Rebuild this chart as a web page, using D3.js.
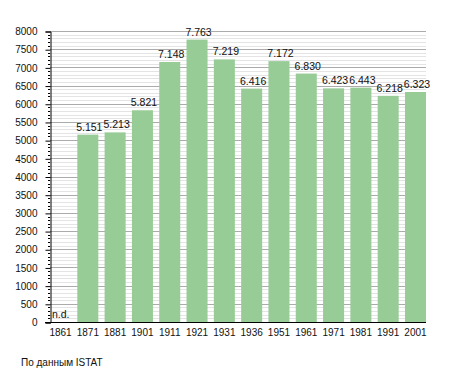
<!DOCTYPE html>
<html>
<head>
<meta charset="utf-8">
<script src="https://cdn.jsdelivr.net/npm/d3@7"></script>
<style>
body { margin: 0; background: #fff; }
text { font-family: "Liberation Sans", Arial, sans-serif; fill: #111; }
</style>
</head>
<body>
<script>
// dati popolazione
var years = ["1861","1871","1881","1901","1911","1921","1931","1936","1951","1961","1971","1981","1991","2001"];
var popolazione = [null,5151,5213,5821,7148,7763,7219,6416,7172,6830,6423,6443,6218,6323];
var etichette = ["n.d.","5.151","5.213","5.821","7.148","7.763","7.219","6.416","7.172","6.830","6.423","6.443","6.218","6.323"];
var yTicks = [0,500,1000,1500,2000,2500,3000,3500,4000,4500,5000,5500,6000,6500,7000,7500,8000];
var fonte = "По данным  ISTAT";

var width = 455, height = 373;
var pLeft = 50, pRight = 426, pTop = 31, pBottom = 322;

var svg = d3.select("body").append("svg")
    .attr("width", width)
    .attr("height", height);

var x = d3.scaleBand()
    .domain(years)
    .range([pLeft, pRight])
    .paddingInner(0.23)
    .paddingOuter(0);

var y = d3.scaleLinear()
    .domain([0, 8000])
    .range([pBottom, pTop]);

// griglia minore ogni 100
var minori = d3.range(0, 8001, 100).filter(function(d){ return d % 500 != 0; });
svg.append("g").selectAll("line")
    .data(minori)
    .enter().append("line")
    .attr("x1", pLeft).attr("x2", pRight)
    .attr("y1", function(d){ return Math.round(y(d)) + 0.5; })
    .attr("y2", function(d){ return Math.round(y(d)) + 0.5; })
    .attr("stroke", "#e4e4e4").attr("stroke-width", 1);

// griglia maggiore ogni 500
svg.append("g").selectAll("line")
    .data(yTicks.filter(function(d){ return d > 0; }))
    .enter().append("line")
    .attr("x1", pLeft).attr("x2", pRight)
    .attr("y1", function(d){ return Math.round(y(d)) + 0.5; })
    .attr("y2", function(d){ return Math.round(y(d)) + 0.5; })
    .attr("stroke", "#ababab").attr("stroke-width", 1);

// barre
var dati = years.map(function(d,i){ return {anno: d, valore: popolazione[i], label: etichette[i]}; });
svg.append("g").selectAll("rect")
    .data(dati.filter(function(d){ return d.valore != null; }))
    .enter().append("rect")
    .attr("x", function(d){ return x(d.anno); })
    .attr("y", function(d){ return y(d.valore); })
    .attr("width", x.bandwidth())
    .attr("height", function(d){ return y(0) - y(d.valore); })
    .attr("fill", "#97cc97");

// etichette valori
svg.append("g").selectAll("text")
    .data(dati)
    .enter().append("text")
    .attr("x", function(d){
        if (d.valore == null) return x(d.anno) + 2;
        return x(d.anno) + x.bandwidth()/2 + 1.5;
    })
    .attr("y", function(d){
        if (d.valore == null) return y(0) - 4;
        return y(d.valore) - 4;
    })
    .attr("text-anchor", function(d){ return d.valore == null ? "start" : "middle"; })
    .attr("font-size", "10.5px")
    .text(function(d){ return d.label; });

// asse y
var yAxis = d3.axisLeft(y)
    .tickValues(yTicks)
    .tickSize(5)
    .tickPadding(8)
    .tickFormat(d3.format("d"));
var gy = svg.append("g")
    .attr("transform", "translate(" + (pLeft + 0.5) + ",0.5)")
    .call(yAxis);
gy.select(".domain").attr("stroke", "#000");
gy.selectAll(".tick line").attr("stroke", "#000");
gy.selectAll("text").attr("font-size", "10px").attr("font-family", "Liberation Sans, Arial, sans-serif").attr("fill", "#111");

// tacche minori
svg.append("g").selectAll("line")
    .data(minori)
    .enter().append("line")
    .attr("x1", pLeft - 2).attr("x2", pLeft)
    .attr("y1", function(d){ return Math.round(y(d)) + 0.5; })
    .attr("y2", function(d){ return Math.round(y(d)) + 0.5; })
    .attr("stroke", "#000");

// asse x
var xAxis = d3.axisBottom(x).tickSize(0).tickPadding(6);
var gx = svg.append("g")
    .attr("transform", "translate(0," + (pBottom + 0.5) + ")")
    .call(xAxis);
gx.select(".domain").attr("d", "M" + (pLeft - 5) + ",0H" + pRight).attr("stroke", "#000");
gx.selectAll("text").attr("font-size", "10px").attr("font-family", "Liberation Sans, Arial, sans-serif").attr("fill", "#111");

// fonte
svg.append("text")
    .attr("x", 21)
    .attr("y", 366)
    .attr("font-size", "10px")
    .text(fonte);
</script>
</body>
</html>
